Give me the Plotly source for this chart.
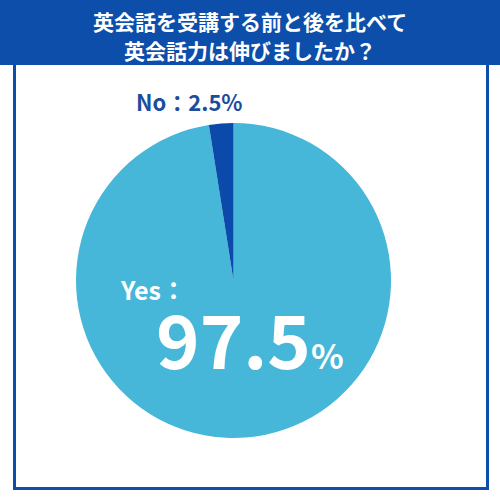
import plotly.graph_objects as go

# Survey answer shares (%)
labels = ['Yes', 'No']
shares = [97.5, 2.5]
slice_colors = ['#46b7d8', '#0b49ab']

title_lines = ['英会話を受講する前と後を比べて', '英会話力は伸びましたか？']

W = H = 500
HEADER = '#0c4ea9'


def px_x(x):
    return x / W


def px_y(y):
    return 1 - y / H


fig = go.Figure(go.Pie(
    labels=labels,
    values=shares,
    sort=False,
    direction='clockwise',
    rotation=0,
    marker=dict(colors=slice_colors, line=dict(width=0)),
    textinfo='none',
    hoverinfo='label+percent',
    showlegend=False,
    domain=dict(x=[px_x(76), px_x(391)], y=[px_y(438), px_y(123)]),
))

shapes = [
    # outer frame
    dict(type='rect', xref='paper', yref='paper',
         x0=px_x(14.5), x1=px_x(487.5), y0=px_y(488.5), y1=px_y(40),
         line=dict(color=HEADER, width=3), fillcolor='rgba(0,0,0,0)'),
    # header band
    dict(type='rect', xref='paper', yref='paper',
         x0=0, x1=1, y0=px_y(65), y1=1,
         line=dict(width=0), fillcolor=HEADER),
]

jp_font = 'Noto Sans CJK JP'

annotations = [
    dict(text='<b>' + title_lines[0] + '</b>', x=0.5, y=px_y(21),
         font=dict(family=jp_font, size=21, color='white')),
    dict(text='<b>' + title_lines[1] + '</b>', x=0.5, y=px_y(50),
         font=dict(family=jp_font, size=21, color='white')),
    dict(text='<b>%s：%.1f%%</b>' % (labels[1], shares[1]),
         x=px_x(189), y=px_y(101),
         font=dict(family=jp_font, size=22, color='#1a4d9e')),
    dict(text='<b>%s：</b>' % labels[0],
         x=px_x(118), y=px_y(289), xanchor='left',
         font=dict(family=jp_font, size=25, color='white')),
    dict(text="<b>%.1f<span style='font-size:34px'>%%</span></b>" % shares[0],
         x=px_x(250), y=px_y(336),
         font=dict(family=jp_font, size=74, color='white')),
]
for a in annotations:
    a.update(xref='paper', yref='paper', showarrow=False)
    a.setdefault('xanchor', 'center')
    a.setdefault('yanchor', 'middle')

fig.update_layout(
    width=W, height=H,
    margin=dict(l=0, r=0, t=0, b=0),
    paper_bgcolor='white',
    plot_bgcolor='white',
    shapes=shapes,
    annotations=annotations,
)

fig.write_html('out.html', config={'displayModeBar': False},
               post_script="document.body.style.margin='0';")
